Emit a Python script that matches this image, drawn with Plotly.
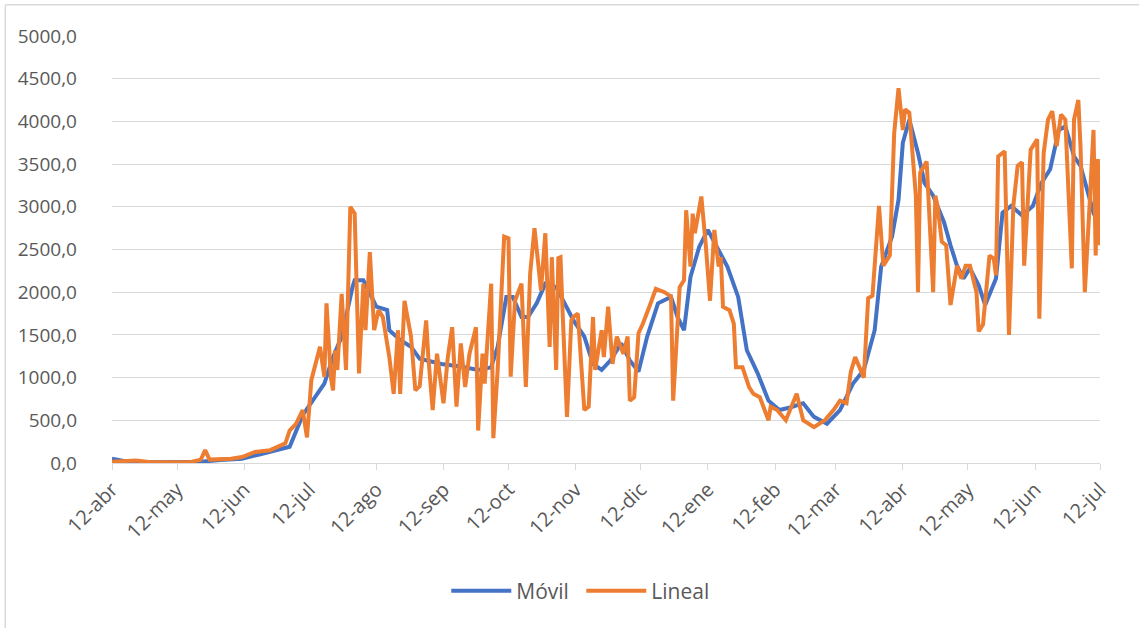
import pandas as pd
import plotly.graph_objects as go

START = "2020-04-12"

# Lineal (daily series) - day offsets from 12-abr-2020 and values
lineal_dias = [0, 11, 18, 36, 41, 43, 45, 55, 60, 66, 73, 80, 82, 85, 88, 90, 92, 96, 98, 99,
               101, 102, 103, 104, 106, 108, 110, 112, 114, 116, 117, 119, 121, 123, 125, 128,
               130, 132, 133, 135, 138, 140, 142, 145, 146, 148, 150, 153, 155, 157, 159, 161,
               163, 165, 168, 169, 171, 172, 175, 176, 178, 181, 183, 184, 186, 189, 191, 193,
               195, 198, 200, 202, 203, 205, 206, 207, 208, 210, 212, 213, 215, 218, 220, 222,
               223, 226, 227, 229, 231, 233, 236, 238, 239, 241, 243, 245, 248, 251, 255, 258,
               259, 261, 262, 264, 265, 267, 268, 269, 272, 274, 276, 278, 280, 281, 282, 285,
               287, 288, 291, 294, 296, 299, 303, 304, 307, 311, 316, 319, 324, 329, 333, 336,
               339, 341, 343, 347, 349, 351, 353, 354, 356, 359, 361, 363, 365, 366, 368, 370,
               371, 372, 373, 376, 377, 379, 380, 381, 383, 385, 387, 390, 392, 394, 396, 399,
               400, 402, 405, 407, 408, 409, 412, 414, 416, 418, 420, 421, 424, 427, 428, 430,
               432, 434, 436, 438, 440, 443, 444, 446, 447, 449, 451, 453, 454, 455, 456]
lineal_vals = [15, 30, 10, 10, 40, 150, 40, 50, 70, 130, 150, 230, 380, 460, 620, 300, 970, 1360, 1010, 1870,
               1010, 850, 1320, 1090, 1980, 1090, 3000, 2920, 1050, 2100, 1555, 2470, 1555, 1790, 1710, 1240,
               810, 1555, 810, 1900, 1480, 850, 900, 1670, 1240, 620, 1280, 700, 1240, 1590, 660, 1400,
               890, 1280, 1590, 380, 1280, 930, 2100, 290, 1090, 2650, 2630, 1010, 1900, 2100, 890, 2220,
               2750, 2020, 2690, 1360, 2410, 1090, 2400, 2410, 1750, 540, 1670, 1710, 1750, 620, 660, 1710,
               1090, 1555, 1240, 1830, 1160, 1480, 1280, 1480, 730, 770, 1520, 1630, 1830, 2040, 2000, 1950,
               730, 1555, 2060, 2140, 2960, 2300, 2920, 2690, 3120, 2570, 1900, 2730, 2300, 2410, 1830, 1790,
               1630, 1120, 1120, 890, 810, 770, 500, 660, 620, 500, 810, 500, 420, 500, 620, 730,
               700, 1070, 1240, 1000, 1930, 1960, 2590, 3010, 2310, 2430, 3860, 4390, 3900, 4140, 4100, 3400,
               3130, 2000, 3400, 3530, 3010, 2000, 3130, 3010, 2590, 2550, 1850, 2310, 2160, 2310, 2310, 2000,
               1540, 1620, 2430, 2390, 2200, 3590, 3650, 1500, 3010, 3480, 3520, 2310, 3670, 3790, 1690, 3630,
               4020, 4120, 3710, 4080, 4020, 2280, 4020, 4250, 3710, 2000, 2930, 3900, 2430, 3560, 2550]

# Móvil (moving average) - day offsets and values
movil_dias = [0, 6, 18, 41, 50, 60, 68, 78, 82, 88, 92, 98, 102, 106, 111, 112, 116, 122, 127, 128,
              133, 138, 142, 152, 161, 169, 175, 178, 182, 185, 189, 192, 196, 200, 205, 209, 213, 218,
              222, 226, 230, 235, 239, 243, 247, 252, 258, 261, 264, 267, 271, 275, 280, 284, 289, 293,
              298, 303, 308, 313, 319, 324, 330, 336, 342, 347, 352, 355, 360, 363, 365, 368, 372, 375,
              379, 384, 387, 390, 393, 396, 400, 403, 408, 411, 415, 420, 425, 429, 433, 437, 440, 444,
              447, 450, 453, 456]
movil_vals = [50, 20, 10, 15, 35, 50, 100, 170, 190, 560, 700, 930, 1240, 1480, 2060, 2140, 2140, 1830, 1790, 1555,
              1440, 1360, 1220, 1160, 1130, 1090, 1120, 1360, 1945, 1945, 1710, 1710, 1870, 2100, 2060, 1870, 1670, 1480,
              1160, 1090, 1200, 1400, 1200, 1070, 1480, 1870, 1945, 1710, 1555, 2180, 2530, 2730, 2490, 2300, 1945, 1320,
              1050, 730, 620, 650, 700, 540, 460, 620, 930, 1090, 1555, 2300, 2650, 3080, 3750, 4020, 3630, 3280,
              3130, 2820, 2550, 2310, 2160, 2280, 2080, 1850, 2160, 2930, 3010, 2900, 3010, 3280, 3440, 3900, 3940, 3590,
              3480, 3200, 2930, 2970]

tick_dates = ["2020-04-12", "2020-05-12", "2020-06-12", "2020-07-12", "2020-08-12", "2020-09-12",
              "2020-10-12", "2020-11-12", "2020-12-12", "2021-01-12", "2021-02-12", "2021-03-12",
              "2021-04-12", "2021-05-12", "2021-06-12", "2021-07-12"]
tick_labels = ["12-abr", "12-may", "12-jun", "12-jul", "12-ago", "12-sep", "12-oct", "12-nov",
               "12-dic", "12-ene", "12-feb", "12-mar", "12-abr", "12-may", "12-jun", "12-jul"]

y_ticks = [0, 500, 1000, 1500, 2000, 2500, 3000, 3500, 4000, 4500, 5000]

start = pd.Timestamp(START)
x_lineal = start + pd.to_timedelta(lineal_dias, unit="D")
x_movil = start + pd.to_timedelta(movil_dias, unit="D")

fig = go.Figure()
fig.add_trace(go.Scatter(x=x_movil, y=movil_vals, mode="lines", name="Móvil",
                         line=dict(color="#4472C4", width=4)))
fig.add_trace(go.Scatter(x=x_lineal, y=lineal_vals, mode="lines", name="Lineal",
                         line=dict(color="#ED7D31", width=4)))

font_color = "#595959"
fig.update_layout(
    width=1139, height=628,
    margin=dict(l=112, r=39, t=36, b=165, autoexpand=False),
    paper_bgcolor="white", plot_bgcolor="white",
    separators=",.",
    font=dict(family="Open Sans, Noto Sans, sans-serif", size=20, color=font_color),
    showlegend=True,
    legend=dict(orientation="h", x=0.475, xanchor="center", y=-0.30, yanchor="middle",
                font=dict(size=21, color=font_color), itemwidth=60, entrywidth=60,
                entrywidthmode="pixels"),
    xaxis=dict(
        type="date",
        range=[pd.Timestamp("2020-04-12"), pd.Timestamp("2021-07-12")],
        tickmode="array", tickvals=tick_dates, ticktext=tick_labels,
        tickangle=-45, showgrid=False, zeroline=False,
        showline=True, linecolor="#d9d9d9", linewidth=1,
        ticks="outside", ticklen=6, tickcolor="#d9d9d9",
        tickfont=dict(size=20, color=font_color),
    ),
    yaxis=dict(
        range=[0, 5000], tickmode="array", tickvals=y_ticks,
        tickformat=".1f", showgrid=True, gridcolor="#d9d9d9", gridwidth=1,
        zeroline=False, showline=False, ticks="", ticklabelstandoff=34,
        tickfont=dict(size=19, color=font_color),
    ),
    shapes=[
        dict(type="line", xref="paper", yref="paper", x0=-0.108, x1=-0.108, y0=1.073, y1=-0.40,
             line=dict(color="#d9d9d9", width=1.5)),
        dict(type="line", xref="paper", yref="paper", x0=-0.108, x1=1.05, y0=1.073, y1=1.073,
             line=dict(color="#d9d9d9", width=1.5)),
    ],
)

fig.write_html("out.html", config={"displayModeBar": False},
               post_script="document.body.style.margin='0';")
